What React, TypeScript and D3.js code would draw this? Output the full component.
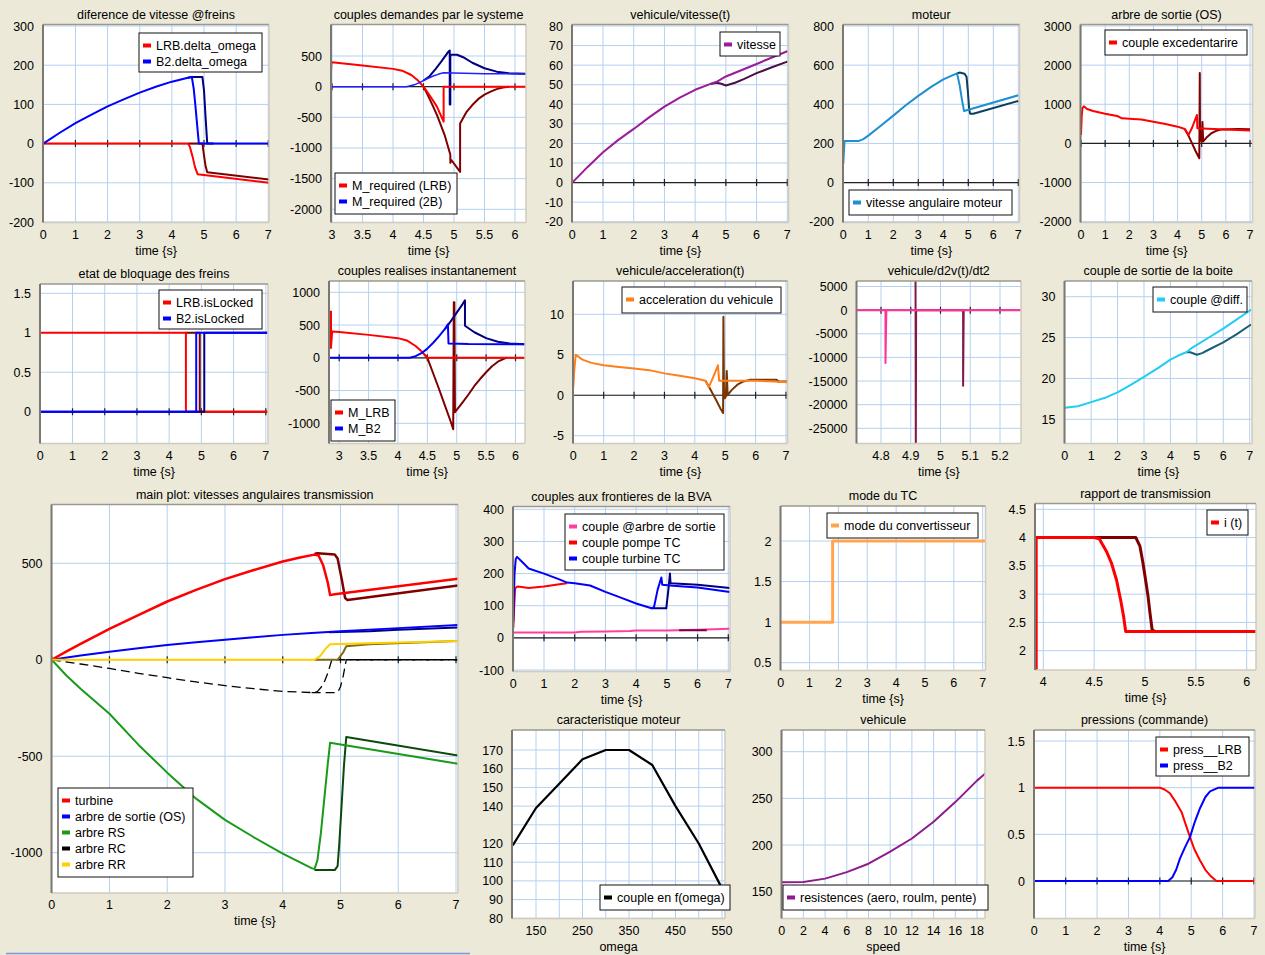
import React from "react";
import * as d3 from "d3";

type Pt = [number, number];

// ---------- data (time in s unless noted) ----------
// diference de vitesse @freins
const brakeLRB: Pt[] = [[0, 0], [4.5, 0], [4.56, -8], [4.64, -32], [4.72, -60], [4.8, -78], [7.05, -100]];
const brakeLRBRun2: Pt[] = [[4.5, 0], [4.95, 0], [5.0, -30], [5.05, -58], [5.1, -73], [7.05, -92]];
const brakeB2: Pt[] = [[0, 0], [0.5, 27], [1, 52], [1.5, 74], [2, 95], [2.5, 113], [3, 130], [3.5, 145], [4, 158], [4.5, 168], [4.62, 170], [4.68, 140], [4.74, 90], [4.8, 35], [4.84, 0], [7.05, 0]];
const brakeB2Run2: Pt[] = [[4.5, 168], [4.62, 170], [4.95, 170], [5.0, 135], [5.05, 65], [5.1, 0], [5.3, 0]];

// couples demandes par le systeme
const reqLRB: Pt[] = [[2.98, 680], [2.98, 150], [2.99, 400], [3, 400], [3.5, 345], [4, 290], [4.15, 260], [4.3, 190], [4.4, 110], [4.5, 0], [4.6, -140], [4.72, -326], [4.83, -570], [4.83, 0], [6.2, 0]];
const reqLRBRun2: Pt[] = [[4.5, 0], [4.6, -200], [4.72, -460], [4.85, -800], [4.94, -1110], [4.94, -1240], [4.96, -1200], [5.1, -1390], [5.1, -600], [5.2, -420], [5.3, -300], [5.4, -200], [5.5, -130], [5.6, -80], [5.7, -40], [5.8, -15], [5.9, 0]];
const req2B: Pt[] = [[2.98, 70], [2.99, 0], [4.22, 0], [4.35, 30], [4.45, 75], [4.55, 125], [4.65, 170], [4.75, 205], [4.83, 228], [5.5, 212], [6.2, 208]];
const req2BRun2: Pt[] = [[4.5, 100], [4.6, 170], [4.7, 290], [4.8, 420], [4.9, 560], [4.93, 590], [4.93, -290], [4.94, -290], [4.94, 520], [5.05, 520], [5.15, 480], [5.3, 390], [5.5, 300], [5.7, 245], [5.9, 220], [6.2, 210]];

// vehicule/vitesse(t)
const speed: Pt[] = [[0, 0], [0.5, 8], [1, 15.5], [1.5, 21.8], [2, 27.4], [2.5, 33.3], [3, 38.8], [3.5, 43.4], [4, 47.4], [4.5, 50.4], [4.7, 51.5], [5, 54.2], [5.5, 57.4], [6, 60.6], [6.5, 63.9], [7, 67.1]];
const speedRun2: Pt[] = [[4.5, 50.4], [4.7, 51], [4.85, 50.5], [5, 49.6], [5.3, 51], [5.6, 53], [6, 55.9], [6.5, 58.9], [7, 61.8]];

// moteur
const motor: Pt[] = [[0, 95], [0.02, 150], [0.05, 212], [0.6, 212], [0.8, 222], [1, 240], [1.5, 290], [2, 342], [2.5, 395], [3, 443], [3.5, 488], [4, 527], [4.5, 555], [4.55, 557], [4.65, 500], [4.75, 420], [4.83, 365], [4.9, 368], [7, 446]];
const motorRun2: Pt[] = [[4.55, 557], [4.65, 562], [4.85, 556], [4.93, 540], [4.98, 470], [5.03, 380], [5.07, 352], [5.2, 352], [7, 417]];

// arbre de sortie (OS)
const excess: Pt[] = [[0, 215], [0.03, 700], [0.06, 900], [0.12, 950], [0.25, 880], [0.5, 830], [1, 760], [1.5, 700], [1.7, 640], [2, 630], [2.5, 610], [3, 555], [3.5, 495], [4, 428], [4.3, 370], [4.45, 215], [4.6, 400], [4.8, 726], [4.82, 390], [5.5, 370], [7, 330]];
const excessRun2: Pt[] = [[4.3, 370], [4.45, 200], [4.6, 0], [4.75, -200], [4.9, -380], [4.92, 1800], [4.93, 100], [5.0, 50], [5.03, 550], [5.06, 50], [5.2, 150], [5.4, 260], [5.6, 320], [5.8, 355], [6.5, 370], [7, 365]];

// etat de bloquage des freins
const lockLRB: Pt[] = [[0, 1], [4.52, 1], [4.52, 0], [7.05, 0]];
const lockLRBRun2: Pt[] = [[4.5, 1], [4.95, 1], [4.95, 0], [7.05, 0]];
const lockB2: Pt[] = [[0, 0], [4.84, 0], [4.84, 1], [7.05, 1]];
const lockB2Run2: Pt[] = [[0, 0], [5.09, 0], [5.09, 1], [7.05, 1]];

// couples realises instantanement
const realLRB: Pt[] = [[2.86, 720], [2.86, 150], [2.88, 400], [3, 395], [3.5, 350], [4, 300], [4.15, 265], [4.3, 180], [4.4, 100], [4.5, 0], [6.2, 0]];
const realLRBRun2: Pt[] = [[4.45, 50], [4.5, 0], [4.6, -240], [4.7, -480], [4.8, -730], [4.9, -980], [4.94, -1090], [4.95, 850], [4.96, 850], [4.97, -830], [5.1, -680], [5.2, -560], [5.3, -430], [5.4, -320], [5.5, -220], [5.6, -130], [5.7, -60], [5.8, -15], [5.85, 0]];
const realB2: Pt[] = [[2.82, 0], [4.2, 0], [4.3, 25], [4.4, 70], [4.5, 140], [4.6, 230], [4.7, 330], [4.8, 440], [4.85, 510], [4.86, 220], [5.2, 210], [6.2, 205]];
const realB2Run2: Pt[] = [[4.8, 440], [4.9, 560], [5.0, 690], [5.1, 820], [5.14, 878], [5.14, 490], [5.3, 390], [5.5, 300], [5.7, 245], [5.9, 218], [6.2, 205]];

// vehicule/acceleration(t)
const accel: Pt[] = [[0, 1.0], [0.03, 3], [0.08, 5], [0.3, 4.4], [0.6, 4.0], [1, 3.7], [1.5, 3.5], [2, 3.3], [2.5, 3.1], [3, 2.7], [3.5, 2.4], [4, 2.1], [4.35, 1.8], [4.46, 1.0], [4.6, 2.2], [4.76, 3.7], [4.8, 1.8], [5.5, 1.8], [6, 1.8], [6.6, 1.7], [7.05, 1.6]];
const accelRun2: Pt[] = [[4.35, 1.8], [4.5, 0.8], [4.7, -0.6], [4.85, -1.7], [4.93, -2.2], [4.94, 9.7], [4.96, -0.4], [5.02, -0.2], [5.05, 3.0], [5.08, 0], [5.2, 0.6], [5.4, 1.3], [5.6, 1.7], [5.8, 1.9], [6.7, 1.9], [6.75, 1.7], [7.05, 1.7]];

// vehicule/d2v(t)/dt2
const jerk: Pt[] = [[4.7, 0], [4.815, 0], [4.815, -11200], [4.818, 0], [5.3, 0]];
const jerkRun2: Pt[] = [[4.916, 8000], [4.917, -30000], [4.918, 0], [5.076, 0], [5.076, -16000], [5.078, 0]];

// couple de sortie de la boite
const outTorque: Pt[] = [[0, 16.4], [0.5, 16.6], [1, 17.1], [1.5, 17.6], [2, 18.3], [2.5, 19.2], [3, 20.2], [3.5, 21.2], [4, 22.3], [4.3, 22.8], [4.6, 23.2], [4.8, 23.7], [5, 24.1], [5.5, 25.1], [6, 26.1], [6.5, 27.2], [7.05, 28.4]];
const outTorqueRun2: Pt[] = [[4.6, 23.2], [4.75, 23.2], [5, 22.9], [5.2, 23.1], [5.5, 23.6], [6, 24.4], [6.5, 25.4], [7.05, 26.6]];

// main plot: vitesses angulaires transmission
const turbine: Pt[] = [[0, 0], [0.25, 42], [0.5, 82], [1, 160], [1.5, 232], [2, 302], [2.5, 362], [3, 418], [3.5, 465], [4, 509], [4.3, 530], [4.55, 545], [4.62, 540], [4.7, 490], [4.78, 400], [4.82, 335], [4.9, 340], [7.05, 420]];
const turbineRun2: Pt[] = [[4.55, 548], [4.6, 552], [4.9, 545], [4.95, 525], [5.02, 420], [5.08, 320], [5.12, 310], [7.05, 385]];
const shaftOS: Pt[] = [[0, 0], [0.5, 22], [1, 42], [1.5, 60], [2, 77], [2.5, 91], [3, 104], [3.5, 117], [4, 129], [4.5, 139], [5, 148], [6, 164], [7.05, 181]];
const shaftOSRun2: Pt[] = [[4.8, 143], [5.5, 148], [6, 155], [7.05, 167]];
const shaftRS: Pt[] = [[0, 0], [0.25, -80], [0.5, -150], [1, -280], [1.5, -440], [2, -585], [2.5, -720], [3, -830], [3.5, -920], [4, -1005], [4.5, -1080], [4.55, -1085], [4.6, -1040], [4.66, -900], [4.72, -720], [4.78, -540], [4.82, -430], [7.05, -540]];
const shaftRSRun2: Pt[] = [[4.55, -1090], [4.9, -1090], [4.95, -1070], [4.98, -950], [5.02, -750], [5.06, -550], [5.1, -400], [7.05, -497]];
const shaftRC: Pt[] = [[0, 0], [0.5, -22], [1, -45], [1.5, -70], [2, -93], [2.5, -115], [3, -134], [3.5, -150], [4, -164], [4.5, -170], [4.6, -165], [4.7, -130], [4.78, -70], [4.85, 0], [7.05, 0]];
const shaftRCRun2: Pt[] = [[4.5, -170], [4.95, -170], [5.0, -140], [5.05, -80], [5.1, 0], [7.05, 0]];
const shaftRR: Pt[] = [[0, 0], [4.55, 0], [4.65, 20], [4.75, 60], [4.82, 80], [5.5, 86], [7.05, 98]];
const shaftRRRun2: Pt[] = [[4.55, 0], [4.95, 0], [5.05, 40], [5.1, 70], [5.5, 80], [7.05, 98]];

// couples aux frontieres de la BVA
const torqueOS: Pt[] = [[0, 17], [1, 17], [2, 17], [2.2, 19], [3, 20], [3.8, 21], [4, 23], [5, 23], [6, 25], [7.05, 28]];
const torqueOSRun2: Pt[] = [[5.4, 24], [6.3, 24]];
const pumpTC: Pt[] = [[0, 30], [0.03, 100], [0.06, 155], [0.15, 160], [0.5, 155], [1, 160], [1.5, 167], [1.75, 170]];
const turbineTC: Pt[] = [[0, 50], [0.04, 200], [0.08, 245], [0.12, 252], [0.3, 235], [0.5, 216], [1, 200], [1.5, 182], [1.75, 172], [2, 170], [2.5, 163], [3, 143], [3.5, 125], [4, 107], [4.5, 92], [4.58, 95], [4.7, 150], [4.82, 188], [4.85, 165], [5.2, 162], [6, 157], [7.05, 143]];
const turbineTCRun2: Pt[] = [[4.5, 92], [4.98, 92], [5.05, 150], [5.1, 200], [5.12, 170], [6, 165], [7.05, 155]];

// mode du TC
const modeTC: Pt[] = [[0, 1], [1.8, 1], [1.8, 2], [7.1, 2]];

// rapport de transmission
const ratio: Pt[] = [[3.93, 1.5], [3.93, 4], [4.5, 4], [4.55, 3.98], [4.62, 3.76], [4.67, 3.55], [4.72, 3.25], [4.76, 2.9], [4.79, 2.6], [4.81, 2.34], [6.2, 2.34]];
const ratioRun2: Pt[] = [[4.5, 4], [4.91, 4], [4.95, 3.85], [4.98, 3.55], [5.01, 3.2], [5.03, 2.96], [5.05, 2.65], [5.07, 2.37], [5.1, 2.34]];

// caracteristique moteur (omega -> couple)
const engineTorque: Pt[] = [[100, 119], [150, 139], [200, 152], [250, 165], [300, 170], [350, 170], [400, 162], [450, 140], [500, 120], [550, 96], [560, 91]];

// vehicule (speed -> resistances)
const resistance: Pt[] = [[0, 160], [2, 160.5], [4, 164], [6, 171], [8, 180], [10, 193], [12, 207], [14, 225], [16, 246], [18, 269], [18.8, 277]];

// pressions (commande)
const pressLRB: Pt[] = [[0, 1], [4, 1], [4.15, 0.98], [4.32, 0.94], [4.5, 0.85], [4.69, 0.74], [4.85, 0.58], [4.96, 0.47], [5.1, 0.34], [5.28, 0.22], [5.45, 0.12], [5.6, 0.06], [5.8, 0], [7.05, 0]];
const pressB2: Pt[] = [[0, 0], [4.27, 0], [4.4, 0.04], [4.52, 0.12], [4.64, 0.24], [4.8, 0.36], [4.96, 0.47], [5.12, 0.64], [5.28, 0.78], [5.45, 0.9], [5.6, 0.96], [5.87, 1], [7.05, 1]];

// ---------- styling ----------
const BG = "#ece9d8";
const GRID = "#b4d0f0";
const FONT = "'Liberation Sans', Arial, sans-serif";

const steps = (a: number, b: number, s: number) => d3.range(a, b + s / 2, s).map((v) => +v.toFixed(6));

interface Series { data: Pt[]; color: string; width?: number; dash?: string }
interface PanelCfg {
  title: string;
  xLabel?: string;
  rect: [number, number, number, number];
  xA: [number, number, number, number];
  yA: [number, number, number, number];
  xTicks: number[];
  yTicks: number[];
  xGrid?: number[];
  yGrid?: number[];
  series: Series[];
  legend?: { box: [number, number, number, number]; items: [string, string][] };
  axisLine?: boolean;
}

const T07 = steps(0, 7, 1);

const panels: PanelCfg[] = [
  {
    title: "diference de vitesse @freins", rect: [43, 24.5, 269, 222.5],
    xA: [0, 43.3, 7, 268.3], yA: [300, 26, -200, 222], xTicks: T07, yTicks: steps(-200, 300, 100),
    series: [
      { data: brakeLRBRun2, color: "#800000" }, { data: brakeB2Run2, color: "#000080" },
      { data: brakeLRB, color: "#ff0000" }, { data: brakeB2, color: "#0000ff" },
    ],
    legend: { box: [139, 33, 123, 39], items: [["LRB.delta_omega", "#ff0000"], ["B2.delta_omega", "#0000ff"]] },
  },
  {
    title: "couples demandes par le systeme", rect: [331, 24.5, 526, 222.5],
    xA: [3, 332, 6, 515], yA: [500, 56, -2000, 209.3], xTicks: steps(3, 6, 0.5), yTicks: steps(-2000, 500, 500),
    series: [
      { data: reqLRBRun2, color: "#800000" }, { data: req2BRun2, color: "#000080" },
      { data: reqLRB, color: "#ff0000" }, { data: req2B, color: "#2020ff", width: 1.5 },
    ],
    legend: { box: [335, 173, 122, 41], items: [["M_required (LRB)", "#ff0000"], ["M_required (2B)", "#0000ff"]] },
  },
  {
    title: "vehicule/vitesse(t)", rect: [572, 24.5, 788.5, 222.5],
    xA: [0, 572.3, 7, 787.3], yA: [80, 26, -20, 221.7], xTicks: T07, yTicks: steps(-20, 80, 10),
    series: [{ data: speedRun2, color: "#4a1046" }, { data: speed, color: "#9a1c98" }],
    legend: { box: [720, 32, 60, 24], items: [["vitesse", "#9a1c98"]] },
  },
  {
    title: "moteur", rect: [843, 24.5, 1019.5, 222.5],
    xA: [0, 843.3, 7, 1018.3], yA: [800, 26, -200, 221.7], xTicks: T07, yTicks: steps(-200, 800, 200),
    series: [{ data: motorRun2, color: "#0c3f5e" }, { data: motor, color: "#1e90d0" }],
    legend: { box: [849, 190, 163, 25], items: [["vitesse angulaire moteur", "#1e90d0"]] },
  },
  {
    title: "arbre de sortie (OS)", rect: [1080.5, 24.5, 1252.5, 222.5],
    xA: [0, 1081, 7, 1250], yA: [3000, 26, -2000, 221.7], xTicks: T07, yTicks: steps(-2000, 3000, 1000),
    series: [{ data: excessRun2, color: "#800000" }, { data: excess, color: "#ff0000" }],
    legend: { box: [1105, 30, 142, 25], items: [["couple excedentarire", "#ff0000"]] },
  },
  {
    title: "etat de bloquage des freins", rect: [40, 284, 268, 443.5],
    xA: [0, 40.3, 7, 265.8], yA: [1.5, 293.3, 0, 411.7], xTicks: T07, yTicks: [0, 0.5, 1, 1.5],
    series: [
      { data: lockLRBRun2, color: "#800000" }, { data: lockLRB, color: "#ff0000" },
      { data: lockB2Run2, color: "#000080" }, { data: lockB2, color: "#0000ff" },
    ],
    legend: { box: [159, 290, 103, 39], items: [["LRB.isLocked", "#ff0000"], ["B2.isLocked", "#0000ff"]] },
  },
  {
    title: "couples realises instantanement", rect: [329, 281, 525, 443.5],
    xA: [3, 339.2, 6, 515.5], yA: [1000, 292.3, -1000, 423.3], xTicks: steps(3, 6, 0.5), yTicks: steps(-1000, 1000, 500),
    series: [
      { data: realLRBRun2, color: "#800000" }, { data: realB2Run2, color: "#000080" },
      { data: realLRB, color: "#ff0000" }, { data: realB2, color: "#0000ff" },
    ],
    legend: { box: [331, 400, 64, 41], items: [["M_LRB", "#ff0000"], ["M_B2", "#0000ff"]] },
  },
  {
    title: "vehicule/acceleration(t)", rect: [573, 281, 787.5, 443.5],
    xA: [0, 573.3, 7, 786], yA: [10, 314.3, -5, 435.7], xTicks: T07, yTicks: [-5, 0, 5, 10],
    series: [{ data: accelRun2, color: "#7a3500" }, { data: accel, color: "#ff7f1a" }],
    legend: { box: [622, 287, 159, 26], items: [["acceleration du vehicule", "#ff7f1a"]] },
  },
  {
    title: "vehicule/d2v(t)/dt2", rect: [856.5, 281, 1021, 443.5],
    xA: [4.8, 881, 5.2, 1000], yA: [5000, 286.5, -25000, 428.3], xTicks: [4.8, 4.9, 5, 5.1, 5.2], yTicks: steps(-25000, 5000, 5000),
    series: [{ data: jerkRun2, color: "#801848" }, { data: jerk, color: "#ff3399" }],
  },
  {
    title: "couple de sortie de la boite", rect: [1064.5, 281, 1252, 443.5],
    xA: [0, 1064.7, 7, 1249.7], yA: [30, 296.7, 15, 419.3], xTicks: T07, yTicks: [15, 20, 25, 30],
    series: [{ data: outTorqueRun2, color: "#1a5f7a" }, { data: outTorque, color: "#22ccf2" }],
    legend: { box: [1153, 287, 94, 25], items: [["couple @diff.", "#22ccf2"]] },
  },
  {
    title: "main plot: vitesses angulaires transmission", rect: [51.5, 504.5, 458, 893],
    xA: [0, 51.7, 7, 456], yA: [500, 563.3, -1000, 852.7], xTicks: T07, yTicks: [-1000, -500, 0, 500],
    axisLine: false,
    series: [
      { data: shaftRSRun2, color: "#0a4a0a" }, { data: shaftRS, color: "#1a9a1a" },
      { data: shaftOSRun2, color: "#000080" }, { data: shaftOS, color: "#0000ff" },
      { data: turbineRun2, color: "#800000", width: 2.5 }, { data: turbine, color: "#ff0000", width: 2.5 },
      { data: shaftRCRun2, color: "#000000", width: 1.3, dash: "9,5" }, { data: shaftRC, color: "#000000", width: 1.3, dash: "9,5" },
      { data: shaftRRRun2, color: "#806a10" }, { data: shaftRR, color: "#ffd000" },
    ],
    legend: {
      box: [58, 788, 135, 89],
      items: [["turbine", "#ff0000"], ["arbre de sortie (OS)", "#0000ff"], ["arbre RS", "#1a9a1a"], ["arbre RC", "#000000"], ["arbre RR", "#ffd000"]],
    },
  },
  {
    title: "couples aux frontieres de la BVA", rect: [513, 506.5, 730, 671.5],
    xA: [0, 513.3, 7, 728.3], yA: [400, 509.3, -100, 670], xTicks: T07, yTicks: steps(-100, 400, 100),
    series: [
      { data: torqueOS, color: "#ff3f9f" }, { data: torqueOSRun2, color: "#800040" },
      { data: pumpTC, color: "#ff0000" }, { data: turbineTCRun2, color: "#000080" }, { data: turbineTC, color: "#0000ff" },
    ],
    legend: {
      box: [565, 514, 159, 56],
      items: [["couple @arbre de sortie", "#ff3f9f"], ["couple pompe TC", "#ff0000"], ["couple turbine TC", "#0000ff"]],
    },
  },
  {
    title: "mode du TC", rect: [780.5, 506, 985.5, 670.5],
    xA: [0, 780.7, 7, 982.7], yA: [2, 541, 0.5, 662.7], xTicks: T07, yTicks: [0.5, 1, 1.5, 2],
    series: [{ data: modeTC, color: "#ffa550", width: 3 }],
    legend: { box: [827, 513, 151, 25], items: [["mode du convertisseur", "#ffa550"]] },
  },
  {
    title: "rapport de transmission", rect: [1035, 503.5, 1256, 670],
    xA: [4, 1043.3, 6, 1246.7], yA: [4.5, 509.3, 2, 650.7], xTicks: [4, 4.5, 5, 5.5, 6], yTicks: steps(2, 4.5, 0.5),
    series: [{ data: ratioRun2, color: "#800000", width: 3 }, { data: ratio, color: "#ff0000", width: 3 }],
    legend: { box: [1207, 510, 41, 25], items: [["i (t)", "#ff0000"]] },
  },
  {
    title: "caracteristique moteur", xLabel: "omega", rect: [512, 730, 725, 918.5],
    xA: [150, 536, 550, 722], yA: [170, 750, 80, 918.3],
    xTicks: [150, 250, 350, 450, 550], xGrid: steps(150, 550, 50),
    yTicks: [80, 90, 100, 110, 120, 140, 150, 160, 170], yGrid: steps(80, 170, 10),
    series: [{ data: engineTorque, color: "#000000", width: 2.2 }],
    legend: { box: [600, 885, 130, 25], items: [["couple en f(omega)", "#000000"]] },
  },
  {
    title: "vehicule", xLabel: "speed", rect: [781.5, 730, 985, 918.5],
    xA: [0, 781.7, 18, 977], yA: [300, 751.7, 150, 891.7], xTicks: steps(0, 18, 2), yTicks: [150, 200, 250, 300],
    series: [{ data: resistance, color: "#8e1a8e" }],
    legend: { box: [783, 885, 205, 25], items: [["resistences (aero, roulm, pente)", "#8e1a8e"]] },
  },
  {
    title: "pressions (commande)", rect: [1034, 730, 1255, 918.5],
    xA: [0, 1034.3, 7, 1254], yA: [1.5, 741, 0, 881], xTicks: T07, yTicks: [0, 0.5, 1, 1.5],
    series: [{ data: pressLRB, color: "#ff0000" }, { data: pressB2, color: "#0000ff" }],
    legend: { box: [1156, 737, 93, 39], items: [["press__LRB", "#ff0000"], ["press__B2", "#0000ff"]] },
  },
];

function Panel({ cfg, id }: { cfg: PanelCfg; id: string }) {
  const [x0, y0, x1, y1] = cfg.rect;
  const x = d3.scaleLinear().domain([cfg.xA[0], cfg.xA[2]]).range([cfg.xA[1], cfg.xA[3]]);
  const y = d3.scaleLinear().domain([cfg.yA[0], cfg.yA[2]]).range([cfg.yA[1], cfg.yA[3]]);
  const line = d3.line<Pt>().x((d) => x(d[0])).y((d) => y(d[1]));
  const inX = (v: number) => x(v) >= x0 - 1 && x(v) <= x1 + 1;
  const inY = (v: number) => y(v) >= y0 - 1 && y(v) <= y1 + 1;
  const xGrid = (cfg.xGrid ?? cfg.xTicks).filter(inX);
  const yGrid = (cfg.yGrid ?? cfg.yTicks).filter(inY);
  const zy = y(0);
  const hasZero = zy > y0 && zy < y1;
  const cx = (x0 + x1) / 2;

  return (
    <g fontFamily={FONT} fontSize={12.5} fill="#000">
      <text x={cx} y={y0 - 6} textAnchor="middle">{cfg.title}</text>
      <defs>
        <clipPath id={id}><rect x={x0} y={y0} width={x1 - x0} height={y1 - y0} /></clipPath>
      </defs>
      <rect x={x0} y={y0} width={x1 - x0} height={y1 - y0} fill="#fff" />
      <g clipPath={`url(#${id})`}>
        {xGrid.map((v) => (
          <line key={"gx" + v} x1={x(v)} x2={x(v)} y1={y0} y2={y1} stroke={GRID} strokeWidth={1} />
        ))}
        {yGrid.map((v) => (
          <line key={"gy" + v} x1={x0} x2={x1} y1={y(v)} y2={y(v)} stroke={GRID} strokeWidth={1} />
        ))}
        {hasZero && cfg.axisLine !== false && (
          <line x1={x0} x2={x1} y1={zy} y2={zy} stroke="#222" strokeWidth={1.2} />
        )}
        {hasZero && xGrid.map((v) => (
          <line key={"tk" + v} x1={x(v)} x2={x(v)} y1={zy - 3.5} y2={zy + 3.5} stroke="#222" strokeWidth={1.2} />
        ))}
        {cfg.series.map((s, i) => (
          <path key={i} d={line(s.data) ?? ""} fill="none" stroke={s.color} strokeWidth={s.width ?? 2}
            strokeDasharray={s.dash} strokeLinejoin="round" />
        ))}
      </g>
      <line x1={x1} x2={x1} y1={y0} y2={y1} stroke="#cfcbc0" strokeWidth={1.5} />
      <line x1={x0} x2={x1} y1={y1} y2={y1} stroke="#cfcbc0" strokeWidth={1.5} />
      <line x1={x0} x2={x1} y1={y0} y2={y0} stroke="#9a9890" strokeWidth={1.5} />
      <line x1={x0} x2={x0} y1={y0} y2={y1} stroke="#7a7870" strokeWidth={2} />
      {cfg.xTicks.filter(inX).map((v) => (
        <text key={"lx" + v} x={x(v)} y={y1 + 16} textAnchor="middle">{String(v)}</text>
      ))}
      {cfg.yTicks.filter(inY).map((v) => (
        <text key={"ly" + v} x={x0 - 9} y={y(v)} dy="0.36em" textAnchor="end">{String(v)}</text>
      ))}
      <text x={cx} y={y1 + 32} textAnchor="middle">{cfg.xLabel ?? "time {s}"}</text>
      {cfg.legend && (
        <g>
          <rect x={cfg.legend.box[0]} y={cfg.legend.box[1]} width={cfg.legend.box[2]} height={cfg.legend.box[3]}
            fill="#fff" stroke="#111" strokeWidth={1} />
          {cfg.legend.items.map(([label, color], i) => {
            const cy = cfg.legend!.box[1] + 12.5 + 16 * i;
            return (
              <g key={label}>
                <rect x={cfg.legend!.box[0] + 4} y={cy - 2} width={8} height={4} fill={color} />
                <text x={cfg.legend!.box[0] + 17} y={cy + 4.5}>{label}</text>
              </g>
            );
          })}
        </g>
      )}
    </g>
  );
}

export default function App() {
  return (
    <svg width={1265} height={955} style={{ position: "absolute", left: 0, top: 0 }}>
      <rect x={0} y={0} width={1265} height={955} fill={BG} />
      {panels.map((p, i) => (
        <Panel key={i} cfg={p} id={"clip" + i} />
      ))}
      <line x1={6} x2={470} y1={953.5} y2={953.5} stroke="#7d96e0" strokeWidth={1.5} />
    </svg>
  );
}
